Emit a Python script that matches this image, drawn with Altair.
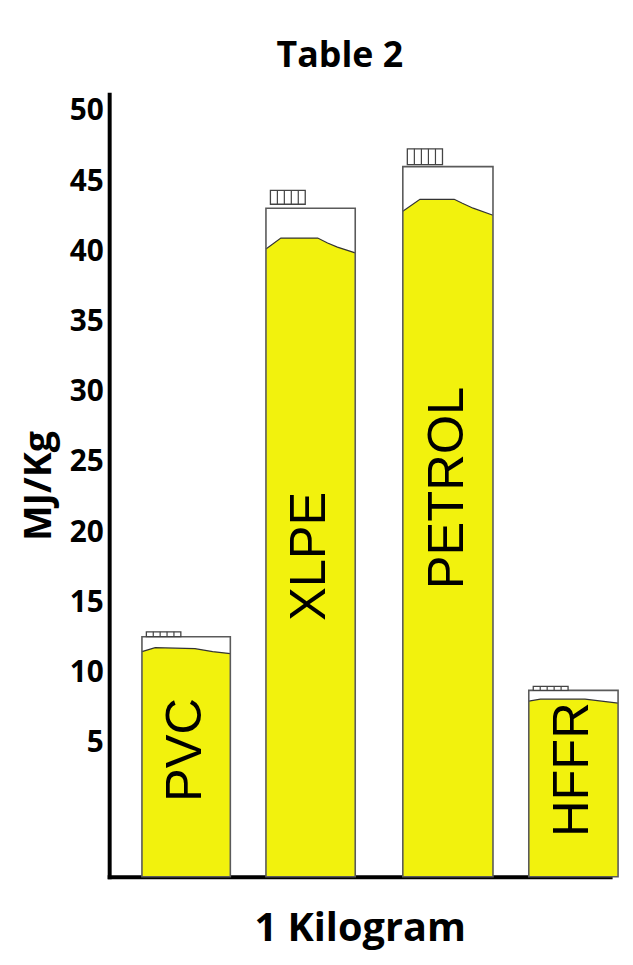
import altair as alt
import pandas as pd

# ---- data ----
materials = ["PVC", "XLPE", "PETROL", "HFFR"]
bar_start = [0.367, 1.756, 3.289, 4.700]      # x position, 1 unit = one bar width
bar_width = [0.99, 1.00, 1.01, 1.00]
container_top = [12.56, 43.08, 46.04, 8.74]  # MJ/Kg, top of the white container
cap_bottom = [12.56, 43.36, 46.18, 8.74]
cap_top = [12.91, 44.35, 47.31, 9.03]
cap_frac = [0.05, 0.44]
hatch_frac = [0.2, 0.4, 0.6, 0.8]
fill_frac = [
    [0.0, 0.15, 0.60, 0.80, 1.0],
    [0.0, 0.167, 0.58, 0.69, 0.80, 1.0],
    [0.0, 0.19, 0.57, 0.66, 0.78, 1.0],
    [0.0, 0.13, 0.63, 1.0],
]
fill_level = [
    [11.50, 11.78, 11.71, 11.50, 11.36],
    [40.18, 40.95, 40.95, 40.60, 40.31, 39.90],
    [42.86, 43.71, 43.71, 43.43, 43.08, 42.58],
    [7.97, 8.11, 8.11, 7.83],
]
label_y = [4.5, 18.28, 23.15, 3.09]
y_ticks = [5, 10, 15, 20, 25, 30, 35, 40, 45, 50]
y_min, y_max = -4.54, 51.2
x_max = 5.611

YELLOW = "#F2F20D"
FONT = "Open Sans"

# ---- tables ----
bars = pd.DataFrame({
    "material": materials,
    "x0": bar_start,
    "x1": [s + w for s, w in zip(bar_start, bar_width)],
    "xc": [s + w / 2 for s, w in zip(bar_start, bar_width)],
    "top": container_top,
    "base": [y_min] * 4,
    "cx0": [s + cap_frac[0] * w for s, w in zip(bar_start, bar_width)],
    "cx1": [s + cap_frac[1] * w for s, w in zip(bar_start, bar_width)],
    "cb": cap_bottom,
    "ct": cap_top,
    "ly": label_y,
})

fill_rows = []
for m, s, w, fr, lv in zip(materials, bar_start, bar_width, fill_frac, fill_level):
    for f, v in zip(fr, lv):
        fill_rows.append({"material": m, "x": s + f * w, "level": v, "base": y_min})
fill = pd.DataFrame(fill_rows)

hatch_rows = []
for m, s, w, cb, ct in zip(materials, bar_start, bar_width, cap_bottom, cap_top):
    c0 = s + cap_frac[0] * w
    cw = (cap_frac[1] - cap_frac[0]) * w
    for f in hatch_frac:
        hatch_rows.append({"material": m, "x": c0 + f * cw, "y0": cb, "y1": ct})
hatch = pd.DataFrame(hatch_rows)

xscale = alt.Scale(domain=[0, x_max], nice=False, zero=False)
yscale = alt.Scale(domain=[y_min, y_max], nice=False, zero=False)
xaxis = alt.Axis(labels=False, ticks=False, grid=False, domainColor="black",
                 domainWidth=4, domainCap="square", title="1 Kilogram",
                 titleFont=FONT, titleFontSize=40, titleFontWeight="bold",
                 titleColor="black", titlePadding=32)
yaxis = alt.Axis(values=y_ticks, ticks=False, grid=False, domainColor="black",
                 domainWidth=4, domainCap="square", labelFont=FONT,
                 labelFontSize=30, labelFontWeight="bold", labelColor="black",
                 labelPadding=6, title="MJ/Kg", titleFont=FONT, titleFontSize=38,
                 titleFontWeight="bold", titleColor="black", titlePadding=11)


def X(f):
    return alt.X(f, scale=xscale, axis=xaxis, title="1 Kilogram")


def Y(f):
    return alt.Y(f, scale=yscale, axis=yaxis, title="MJ/Kg")


container = alt.Chart(bars).mark_rect(fill="white").encode(
    x=X("x0:Q"), x2="x1:Q", y=Y("top:Q"), y2="base:Q")

liquid = alt.Chart(fill).mark_area(color=YELLOW).encode(
    x=X("x:Q"), y=alt.Y("level:Q", scale=yscale, axis=yaxis, title="MJ/Kg", stack=False),
    y2="base:Q", detail="material:N")

surface = alt.Chart(fill).mark_line(color="#333333", strokeWidth=1.2).encode(
    x=X("x:Q"), y=Y("level:Q"), detail="material:N")

outline = alt.Chart(bars).mark_rect(fillOpacity=0, stroke="#5a5a5a", strokeWidth=1.6).encode(
    x=X("x0:Q"), x2="x1:Q", y=Y("top:Q"), y2="base:Q")

cap = alt.Chart(bars).mark_rect(fill="white", stroke="#444444", strokeWidth=1.3).encode(
    x=X("cx0:Q"), x2="cx1:Q", y=Y("ct:Q"), y2="cb:Q")

hatch_marks = alt.Chart(hatch).mark_rule(color="#444444", strokeWidth=1.2).encode(
    x=X("x:Q"), y=Y("y0:Q"), y2="y1:Q")

labels = alt.Chart(bars).mark_text(angle=270, font="Liberation Sans", fontSize=51,
                                   color="black", align="center", baseline="middle").encode(
    x=X("xc:Q"), y=Y("ly:Q"), text="material:N")

chart = alt.layer(container, liquid, surface, outline, cap, hatch_marks, labels).properties(
    width=505, height=789,
    title=alt.TitleParams("Table 2", font=FONT, fontSize=36, fontWeight="bold",
                          color="black", dx=-20, offset=19),
    padding={"left": 102, "top": 83, "right": 15, "bottom": 80},
    autosize=alt.AutoSizeParams(type="none"),
).configure_view(strokeWidth=0)

chart.save("out.html", embed_options={"renderer": "svg", "actions": False})
